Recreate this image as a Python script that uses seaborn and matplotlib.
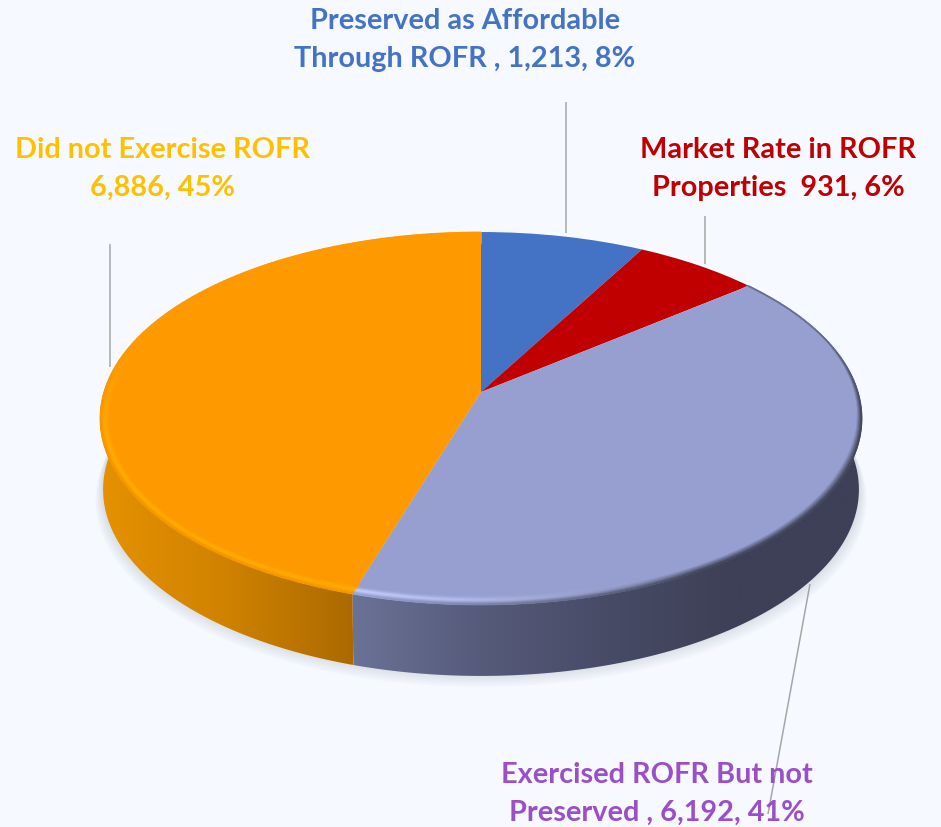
import numpy as np
import seaborn as sns
import matplotlib
matplotlib.use('Agg')
import matplotlib.pyplot as plt
from matplotlib.collections import LineCollection
from matplotlib.colors import ListedColormap, to_rgb
from matplotlib.patches import Polygon
from matplotlib.transforms import Transform

#Chart values
categories = ['Preserved as Affordable', 'Market Rate in ROFR', 'Exercised ROFR But not Preserved', 'Did not Exercise ROFR']
units = [1213, 931, 6192, 6886]
sliceColors = ['#4472c4', '#c00000', '#969fcf', '#ff9900']
labelTexts = ['Preserved as Affordable\nThrough ROFR , 1,213, 8%',
              'Market Rate in ROFR\nProperties  931, 6%',
              'Exercised ROFR But not\nPreserved , 6,192, 41%',
              'Did not Exercise ROFR\n6,886, 45%']
labelColors = ['#4472c4', '#c00000', '#9a4fc9', '#ffc000']
labelCenters = [(465, 40), (778, 169), (657, 794), (163, 169)]
leaderLines = [((566, 103), (566, 234)), ((705, 217), (705, 265)),
               ((810, 585), (768, 815)), ((110, 245), (110, 368))]

bg = '#f6f9ff'
cx, cy, ellY = 481.0, 393.0, 421.0
tilt, halfW, halfH = 0.142, 377.1, 182.7
depth = 71.0


class TiltTransform(Transform):
    #unit circle -> screen pixels, with perspective
    input_dims = 2
    output_dims = 2

    def transform_non_affine(self, values):
        values = np.asarray(values)
        w = 1 + tilt * values[:, 1]
        return np.column_stack((cx + halfW * values[:, 0] / w, cy - halfH * values[:, 1] / w))


tilted = TiltTransform()


def rim(angles):
    #angles clockwise from 12 o'clock, in degrees
    rad = np.radians(angles)
    return tilted.transform_non_affine(np.column_stack((np.sin(rad), np.cos(rad))))


def lowerRim(angles):
    pts = rim(angles)
    pts[:, 0] = cx + (pts[:, 0] - cx) * 0.992
    pts[:, 1] = pts[:, 1] + depth
    return pts


sns.set_theme(style='white')
plt.rcParams['font.family'] = ['Lato', 'DejaVu Sans']
fig = plt.figure(figsize=(9.41, 8.28), dpi=100, facecolor=bg)
ax = fig.add_axes([0, 0, 1, 1])

#top face
wedges, _ = ax.pie(units, colors=sliceColors, startangle=90, counterclock=False, radius=1)
for wedge in wedges:
    wedge.set_transform(tilted + ax.transData)
    wedge.set_zorder(5)
    wedge.set_linewidth(0)
ax.set_aspect('auto')
ax.set_xlim(0, 941)
ax.set_ylim(828, 0)
ax.axis('off')

fractions = np.array(units) / np.sum(units)
edges = np.concatenate(([0], np.cumsum(fractions) * 360))
frontSplit = edges[3]
splitX = rim(np.array([frontSplit]))[0, 0]

#soft shadow below the pie
allAround = np.linspace(0, 360, 361)
for grow in np.arange(14, 0, -1.5):
    pts = lowerRim(allAround)
    pts[:, 0] = cx + (pts[:, 0] - cx) * (1 + grow / 700)
    pts[:, 1] = pts[:, 1] + grow * 1.0 - 3
    ax.add_patch(Polygon(pts, closed=True, fc='#8f97a8', ec='none', alpha=0.03, zorder=1))

#side walls, horizontal gradient clipped to the wall shape
purpleSide = sns.blend_palette(['#6a7296', '#565b7a', '#474b66', '#3d4056', '#3d4056'], 256)
orangeSide = sns.blend_palette(['#e59200', '#d08200', '#ab6a00'], 256)
walls = [(np.linspace(60, frontSplit, 200), purpleSide, 'right'),
         (np.linspace(frontSplit, 290, 200), orangeSide, 'left')]
for angles, pal, side in walls:
    poly = np.vstack((rim(angles), lowerRim(angles)[::-1]))
    clip = Polygon(poly, closed=True, fc='none', ec='none', transform=ax.transData)
    ax.add_patch(clip)
    x0, x1 = poly[:, 0].min(), poly[:, 0].max()
    if side == 'right':
        x0 = splitX
    else:
        x1 = splitX
    grad = np.linspace(0, 1, 256).reshape(1, -1)
    img = ax.imshow(grad, extent=(x0, x1, 700, 300), cmap=ListedColormap(pal), aspect='auto', zorder=2)
    img.set_clip_path(clip)
ax.set_xlim(0, 941)
ax.set_ylim(828, 0)

#bevel along the rim of the top face
base = {2: np.array(to_rgb(sliceColors[2])), 3: np.array(to_rgb(sliceColors[3]))}
dark = np.array(to_rgb('#44485f'))
paleBlue = np.array(to_rgb('#c2ccfa'))
paleOrange = np.array(to_rgb('#ffb000'))
edgeOrange = np.array(to_rgb('#f09400'))
for d in np.arange(11, -0.5, -1.0):
    for idx in (2, 3):
        angles = np.linspace(edges[idx], edges[idx + 1], 260)
        pts = rim(angles)
        toCenter = np.array([cx, ellY]) - pts
        toCenter = toCenter / np.linalg.norm(toCenter, axis=1, keepdims=True)
        pts = pts + toCenter * (d + 0.5)
        mid = (angles[:-1] + angles[1:]) / 2
        if idx == 2:
            blur = np.clip(1.0 + (mid - 75) / 40 * 6.0, 1.0, 7.0)
            pale = np.clip((mid - 150) / 47, 0, 1)
            aDark = np.clip(1 - d / blur, 0, 1) * (1 - pale)
            aDark = aDark * np.clip(0.55 + (mid - 70) / 60, 0.55, 1.0)
            aPale = pale * np.exp(-((d - 4.0) / 2.6) ** 2)
            cols = base[2] * (1 - aDark)[:, None] + dark * aDark[:, None]
            cols = cols * (1 - aPale)[:, None] + paleBlue * aPale[:, None]
        else:
            fade = np.clip((290 - mid) / 40, 0, 1)
            aPale = fade * np.exp(-((d - 4.5) / 2.8) ** 2) * 0.8
            aEdge = fade * np.clip(1 - d / 2.0, 0, 1) * 0.7
            cols = base[3] * (1 - aPale)[:, None] + paleOrange * aPale[:, None]
            cols = cols * (1 - aEdge)[:, None] + edgeOrange * aEdge[:, None]
        segs = np.stack((pts[:-1], pts[1:]), axis=1)
        ax.add_collection(LineCollection(segs, colors=cols, linewidths=1.3, capstyle='round', zorder=6))

#leader lines
for start, end in leaderLines:
    ax.plot([start[0], end[0]], [start[1], end[1]], color='#a6a6a6', lw=1.1, zorder=7, solid_capstyle='butt')

#labels
for text, color, pos in zip(labelTexts, labelColors, labelCenters):
    ax.text(pos[0], pos[1], text, color=color, ha='center', va='center', fontsize=20.8,
            fontweight='bold', linespacing=1.6, zorder=8)

plt.savefig('out.png', dpi=100, facecolor=bg)
